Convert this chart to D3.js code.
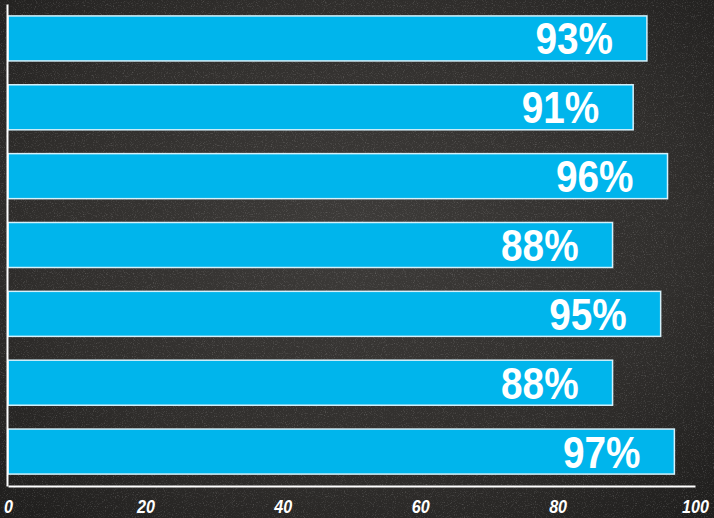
<!DOCTYPE html>
<html>
<head>
<meta charset="utf-8">
<script src="https://cdn.jsdelivr.net/npm/d3@7"></script>
<style>
  html, body { margin: 0; padding: 0; background: #2a2927; overflow: hidden; }
  svg { display: block; }
</style>
</head>
<body>
<svg id="chart" width="714" height="518"></svg>
<script>
// ---- data ----
const categories = ["A", "B", "C", "D", "E", "F", "G"];
const values = [93, 91, 96, 88, 95, 88, 97];
const tickValues = [0, 20, 40, 60, 80, 100];

const W = 714, H = 518;
const svg = d3.select("#chart");

// ---- background (chalkboard) ----
const defs = svg.append("defs");
const grad = defs.append("radialGradient").attr("id", "bg")
  .attr("cx", "50%").attr("cy", "45%").attr("r", "75%");
grad.append("stop").attr("offset", "0%").attr("stop-color", "#3d3b39");
grad.append("stop").attr("offset", "60%").attr("stop-color", "#302e2c");
grad.append("stop").attr("offset", "100%").attr("stop-color", "#1e1d1c");

const filt = defs.append("filter").attr("id", "noise").attr("x", 0).attr("y", 0)
  .attr("width", "100%").attr("height", "100%");
filt.append("feTurbulence").attr("type", "fractalNoise").attr("baseFrequency", "0.9")
  .attr("numOctaves", 2).attr("seed", 3).attr("result", "t");
filt.append("feColorMatrix").attr("type", "matrix")
  .attr("values", "0 0 0 0 1  0 0 0 0 1  0 0 0 0 1  0 0 0 1.4 -0.75");

svg.append("rect").attr("width", W).attr("height", H).attr("fill", "url(#bg)");
svg.append("rect").attr("width", W).attr("height", H).attr("filter", "url(#noise)").attr("opacity", 0.35);

// ---- scales ----
const x = d3.scaleLinear().domain([0, 100]).range([8, 695]);
const y = d3.scaleBand().domain(categories).range([4, 486])
  .paddingInner(0.346).paddingOuter(0.173);

// ---- bars ----
const g = svg.append("g");
g.selectAll("rect.bar").data(values).join("rect")
  .attr("class", "bar")
  .attr("x", x(0))
  .attr("y", (d, i) => y(categories[i]))
  .attr("width", d => x(d) - x(0))
  .attr("height", y.bandwidth())
  .attr("fill", "#00b5ec")
  .attr("stroke", "#d4f1fb")
  .attr("stroke-width", 1.5);

// ---- value labels (condensed via horizontal scale) ----
g.selectAll("text.val").data(values).join("text")
  .attr("class", "val")
  .attr("transform", (d, i) =>
    `translate(${x(d) - 34},${y(categories[i]) + y.bandwidth() / 2 + 16}) scale(0.88,1)`)
  .attr("text-anchor", "end")
  .attr("fill", "#ffffff")
  .style("font-family", "'Liberation Sans', Arial, sans-serif")
  .style("font-weight", "bold")
  .style("font-size", "44px")
  .text(d => d + "%");

// ---- axes ----
const xAxis = svg.append("g").attr("transform", `translate(0,486)`)
  .call(d3.axisBottom(x).tickValues(tickValues).tickSize(0).tickPadding(0).tickFormat(d3.format("d")));
xAxis.select(".domain").attr("stroke", "#ffffff").attr("stroke-width", 2);
xAxis.selectAll(".tick text")
  .attr("y", 0)
  .attr("dy", 0)
  .attr("transform", "translate(0,27) scale(0.85,1)")
  .attr("fill", "#ffffff")
  .style("font-family", "'Liberation Sans', Arial, sans-serif")
  .style("font-weight", "bold")
  .style("font-style", "italic")
  .style("font-size", "19px");

const yAxis = svg.append("g").attr("transform", `translate(7,0)`)
  .call(d3.axisLeft(y).tickSize(0).tickFormat(""));
yAxis.select(".domain").attr("stroke", "#ffffff").attr("stroke-width", 2);
</script>
</body>
</html>
